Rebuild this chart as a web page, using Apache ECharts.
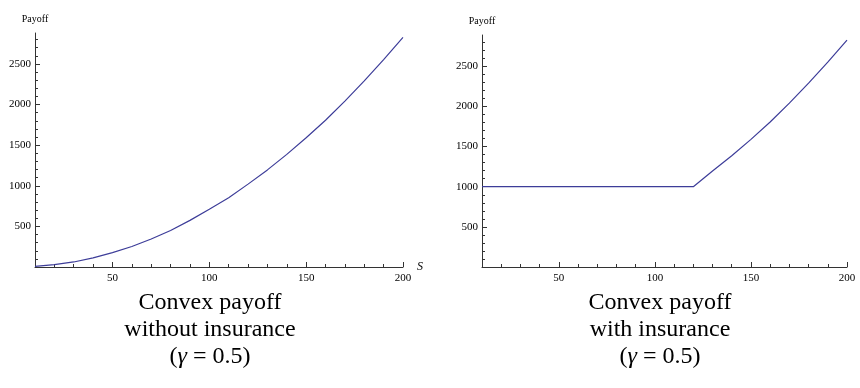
<!DOCTYPE html>
<html>
<head>
<meta charset="utf-8">
<script src="https://cdn.jsdelivr.net/npm/echarts@6/dist/echarts.min.js"></script>
<style>
  html, body { margin: 0; padding: 0; background: #fff; }
  #main { width: 860px; height: 388px; }
</style>
</head>
<body>
<div id="main"></div>
<script>
// stock price S
var sValues = [10, 20, 30, 40, 50, 60, 70, 80, 90, 100, 110, 120, 130, 140, 150, 160, 170, 180, 190, 200];
// convex payoff without insurance
var payoffNoIns = [7, 29, 62, 113, 177, 252, 345, 450, 574, 710, 852, 1020, 1195, 1386, 1590, 1806, 2042, 2290, 2552, 2826];
// convex payoff with insurance (floor at 1000)
var payoffIns = [1000, 1000, 1000, 1000, 1000, 1000, 1000, 1000, 1000, 1000, 1000, 1000, 1195, 1386, 1590, 1806, 2042, 2290, 2552, 2826];

var xMajor = [50, 100, 150, 200];
var xMinor = [20, 30, 40, 60, 70, 80, 90, 110, 120, 130, 140, 160, 170, 180, 190];
var yMajor = [500, 1000, 1500, 2000, 2500];
var yMinor = [100, 200, 300, 400, 600, 700, 800, 900, 1100, 1200, 1300, 1400, 1600, 1700, 1800, 1900,
  2100, 2200, 2300, 2400, 2600, 2700, 2800];

var captions = ["Convex payoff\nwithout insurance\n({g|γ} = 0.5)", "Convex payoff\nwith insurance\n({g|γ} = 0.5)"];

var serif = "Liberation Serif";
var axisColor = "#333";
var lineColor = "#3d3d99";

function pairs(ys) {
  return sValues.map(function (s, i) { return [s, ys[i]]; });
}
function plain(v) { return String(v); }

var myChart = echarts.init(document.getElementById("main"));

var grids = [
  { left: 35, top: 33, width: 368, height: 234, containLabel: false, outerBoundsMode: "none" },
  { left: 482, top: 35, width: 365, height: 232, containLabel: false, outerBoundsMode: "none" }
];
var yMaxes = [2880, 2890];

var xAxes = [];
var yAxes = [];
for (var g = 0; g < 2; g++) {
  // major x axis with labels
  xAxes.push({
    type: "value", gridIndex: g, min: 10, max: 200,
    name: g === 0 ? "S" : "",
    nameLocation: "end", nameGap: 14,
    nameTextStyle: { fontFamily: serif, fontStyle: "italic", fontSize: 12, color: "#000", verticalAlign: "middle" },
    axisLine: { show: true, onZero: false, lineStyle: { color: axisColor, width: 1 } },
    axisTick: { show: true, inside: true, length: 5, customValues: xMajor, lineStyle: { color: axisColor } },
    axisLabel: { show: true, customValues: xMajor, formatter: plain, margin: 6, fontFamily: serif, fontSize: 11, color: "#000" },
    splitLine: { show: false }
  });
  // minor x ticks
  xAxes.push({
    type: "value", gridIndex: g, min: 10, max: 200, position: "bottom",
    axisLine: { show: false },
    axisTick: { show: true, inside: true, length: 3, customValues: xMinor, lineStyle: { color: axisColor } },
    axisLabel: { show: false },
    splitLine: { show: false }
  });
  yAxes.push({
    type: "value", gridIndex: g, min: 0, max: yMaxes[g],
    name: "Payoff", nameLocation: "end", nameGap: 9,
    nameTextStyle: { fontFamily: serif, fontSize: 10, color: "#000", align: "center" },
    axisLine: { show: true, onZero: false, lineStyle: { color: axisColor, width: 1 } },
    axisTick: { show: true, inside: true, length: 5, customValues: yMajor, lineStyle: { color: axisColor } },
    axisLabel: { show: true, customValues: yMajor, formatter: plain, margin: 4, fontFamily: serif, fontSize: 11, color: "#000" },
    splitLine: { show: false }
  });
  yAxes.push({
    type: "value", gridIndex: g, min: 0, max: yMaxes[g], position: "left",
    axisLine: { show: false },
    axisTick: { show: true, inside: true, length: 3, customValues: yMinor, lineStyle: { color: axisColor } },
    axisLabel: { show: false },
    splitLine: { show: false }
  });
}

var option = {
  animation: false,
  backgroundColor: "#fff",
  title: [0, 1].map(function (i) {
    return {
      text: captions[i],
      left: i === 0 ? 205 : 655,
      top: 284,
      textAlign: "center",
      textStyle: {
        fontFamily: serif, fontSize: 24, fontWeight: "normal", color: "#000", lineHeight: 27, align: "center",
        rich: { g: { fontFamily: serif, fontSize: 24, fontStyle: "italic", color: "#000" } }
      }
    };
  }),
  grid: grids,
  xAxis: xAxes,
  yAxis: yAxes,
  series: [
    {
      type: "line", xAxisIndex: 0, yAxisIndex: 0, data: pairs(payoffNoIns),
      showSymbol: false, lineStyle: { color: lineColor, width: 1.2 }
    },
    {
      type: "line", xAxisIndex: 2, yAxisIndex: 2, data: pairs(payoffIns),
      showSymbol: false, lineStyle: { color: lineColor, width: 1.2 }
    }
  ]
};

myChart.setOption(option);
</script>
</body>
</html>
